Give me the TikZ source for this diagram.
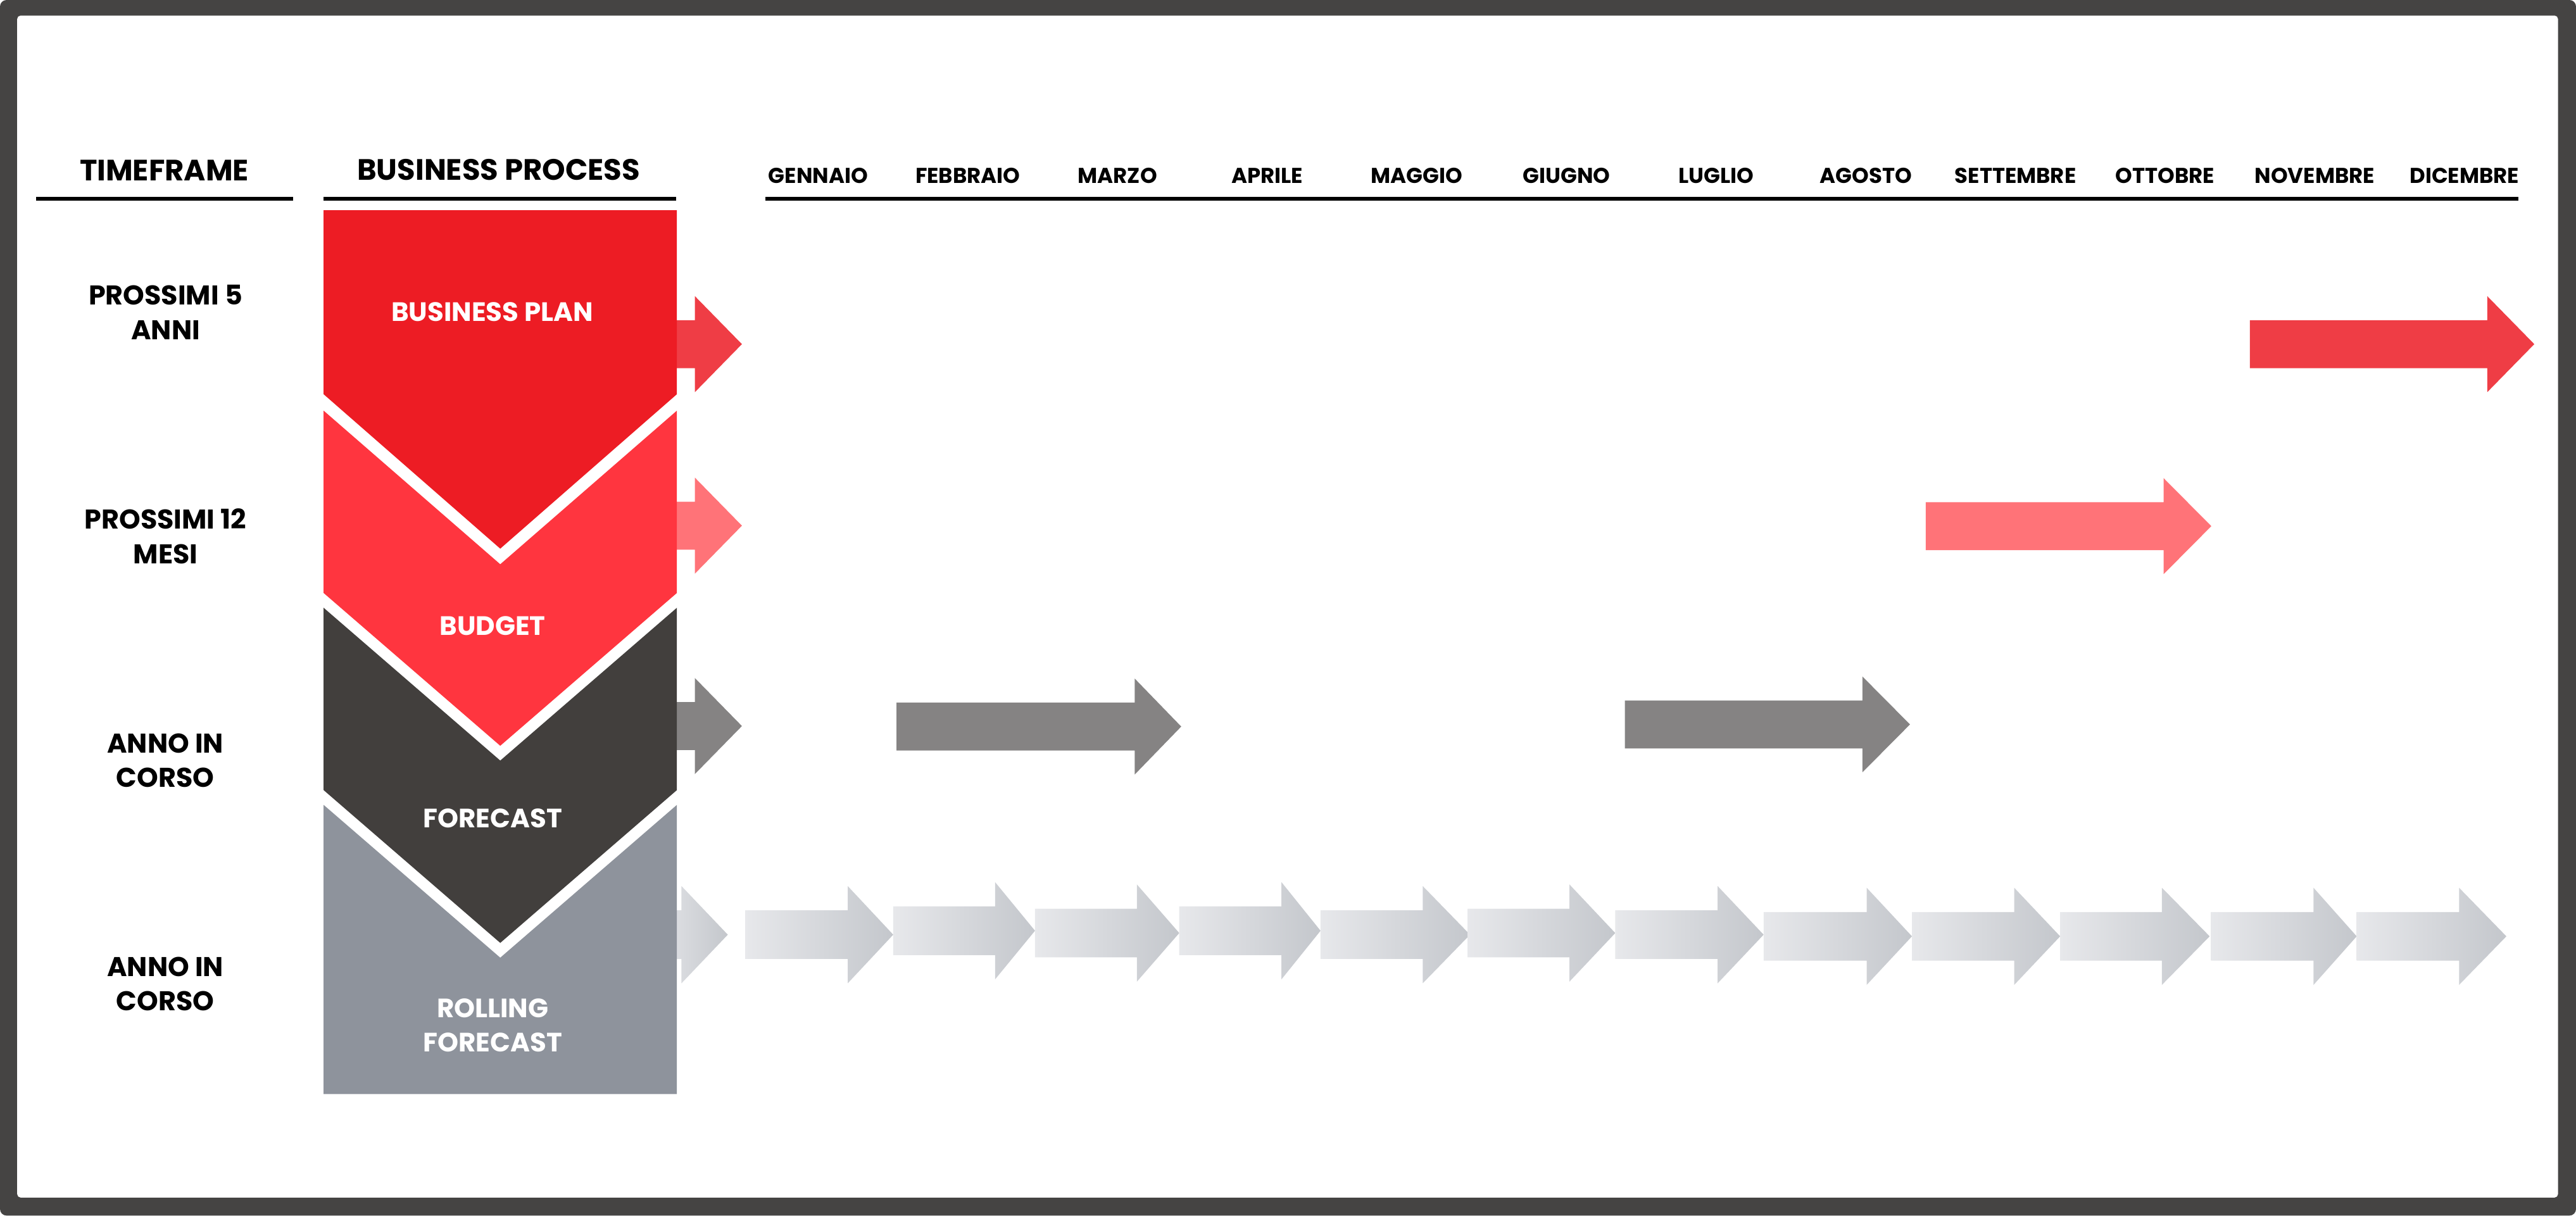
\documentclass[tikz,border=0pt]{standalone}
\usepackage{fontspec}
\setmainfont{Poppins}
\usetikzlibrary{positioning}
\definecolor{framegray}{HTML}{454443}
\definecolor{planred}{HTML}{ED1C24}
\definecolor{budgetred}{HTML}{FF353F}
\definecolor{forecastdark}{HTML}{423F3D}
\definecolor{rollinggray}{HTML}{8E939C}
\definecolor{yearred}{HTML}{EF3D45}
\definecolor{monthpink}{HTML}{FF7378}
\definecolor{currentgray}{HTML}{858383}
\definecolor{rollingleft}{HTML}{E7E8EB}
\definecolor{rollingright}{HTML}{C4C7CC}

\begin{document}
\begin{tikzpicture}[
    x=0.5mm, y=-0.5mm,
    header/.style={font=\fontsize{25.5}{30}\selectfont\bfseries, inner sep=0pt},
    month/.style={font=\fontsize{18.6}{22}\selectfont\bfseries, inner sep=0pt},
    rowlabel/.style={font=\fontsize{23.5}{30}\selectfont\bfseries, align=center, inner sep=0pt},
    process/.style={font=\fontsize{23}{30}\selectfont\bfseries, text=white,
                    align=center, inner sep=0pt},
    rule/.style={line width=1.3mm},
    rollarrow/.style={left color=rollingleft, right color=rollingright},
]
\useasboundingbox (0,0) rectangle (1568,740);

% Frame
\fill[framegray, rounded corners=2mm] (0,0) rectangle (1568,740);
\fill[white, rounded corners=1mm] (10.5,9.5) rectangle (1557,729);

% Headers
\node[header] (timeframe) at (100,103.6) {TIMEFRAME};
\node[header] (process) at (303.5,103.5) {BUSINESS PROCESS};
\draw[rule] (22,121) -- (178.5,121);
\draw[rule] (197,121) -- (411.5,121);
\draw[rule] (466,121) -- (1533,121);

\foreach \name [count=\i from 0] in {GENNAIO,FEBBRAIO,MARZO,APRILE,MAGGIO,GIUGNO,
    LUGLIO,AGOSTO,SETTEMBRE,OTTOBRE,NOVEMBRE,DICEMBRE}
  \node[month] (m\i) at ({498+91.1*\i},107) {\name};

% Timeline arrows
\foreach \x/\b/\t/\c/\col in {395/423/451.6/209.5/yearred, 1369.5/1514/1542.6/209.5/yearred,
    395/423/451.6/320/monthpink, 1172.2/1317/1346/320.3/monthpink,
    395/423/451.6/442/currentgray, 545.7/690.7/719/442.3/currentgray,
    989/1133.6/1162.6/441/currentgray}
  \fill[\col] (\x,\c-14.6) -- (\b,\c-14.6) -- (\b,\c-29.2) -- (\t,\c)
      -- (\b,\c+29.2) -- (\b,\c+14.6) -- (\x,\c+14.6) -- cycle;

% Rolling forecast arrows
\foreach \x/\b/\t/\c in {395/414.8/443/569, 453.6/516/543.7/569, 543.7/605.7/630/566.6,
    630/692/717.8/568, 717.8/780/803.8/566.6, 803.8/866/894.8/569,
    893.4/955.3/983.2/568, 983.2/1045.5/1073.5/569, 1073.5/1136.2/1163.8/570,
    1163.8/1226/1254/570, 1254/1315.9/1345/570, 1345.9/1408.2/1434.5/570,
    1434.5/1496.8/1525.6/570}
  \shade[rollarrow] (\x,\c-14.8) -- (\b,\c-14.8) -- (\b,\c-29.6) -- (\t,\c)
      -- (\b,\c+29.6) -- (\b,\c+14.8) -- (\x,\c+14.8) -- cycle;

% Business process column
\fill[rollinggray] (197,490) -- (304.5,583) -- (412,490) -- (412,666) -- (197,666) -- cycle;
\fill[forecastdark] (197,370) -- (304.5,463) -- (412,370) -- (412,481) -- (304.5,574)
    -- (197,481) -- cycle;
\fill[budgetred] (197,250) -- (304.5,343.5) -- (412,250) -- (412,361) -- (304.5,454)
    -- (197,361) -- cycle;
\fill[planred] (197,128) -- (412,128) -- (412,240) -- (304.5,334) -- (197,240) -- cycle;

\node[process] (plan) at (299.6,189.8) {BUSINESS PLAN};
\node[process] (budget) at (299.8,381) {BUDGET};
\node[process] (forecast) at (299.9,498.3) {FORECAST};
\node[process] (rolling) at (299.9,624.2) {ROLLING\\FORECAST};

% Timeframes
\node[rowlabel] (row1) at (100.8,190) {PROSSIMI 5\\ANNI};
\node[rowlabel] (row2) at (100.8,326.5) {PROSSIMI 12\\MESI};
\node[rowlabel] (row3) at (100.6,463) {ANNO IN\\CORSO};
\node[rowlabel] (row4) at (100.6,599) {ANNO IN\\CORSO};

\end{tikzpicture}
\end{document}
